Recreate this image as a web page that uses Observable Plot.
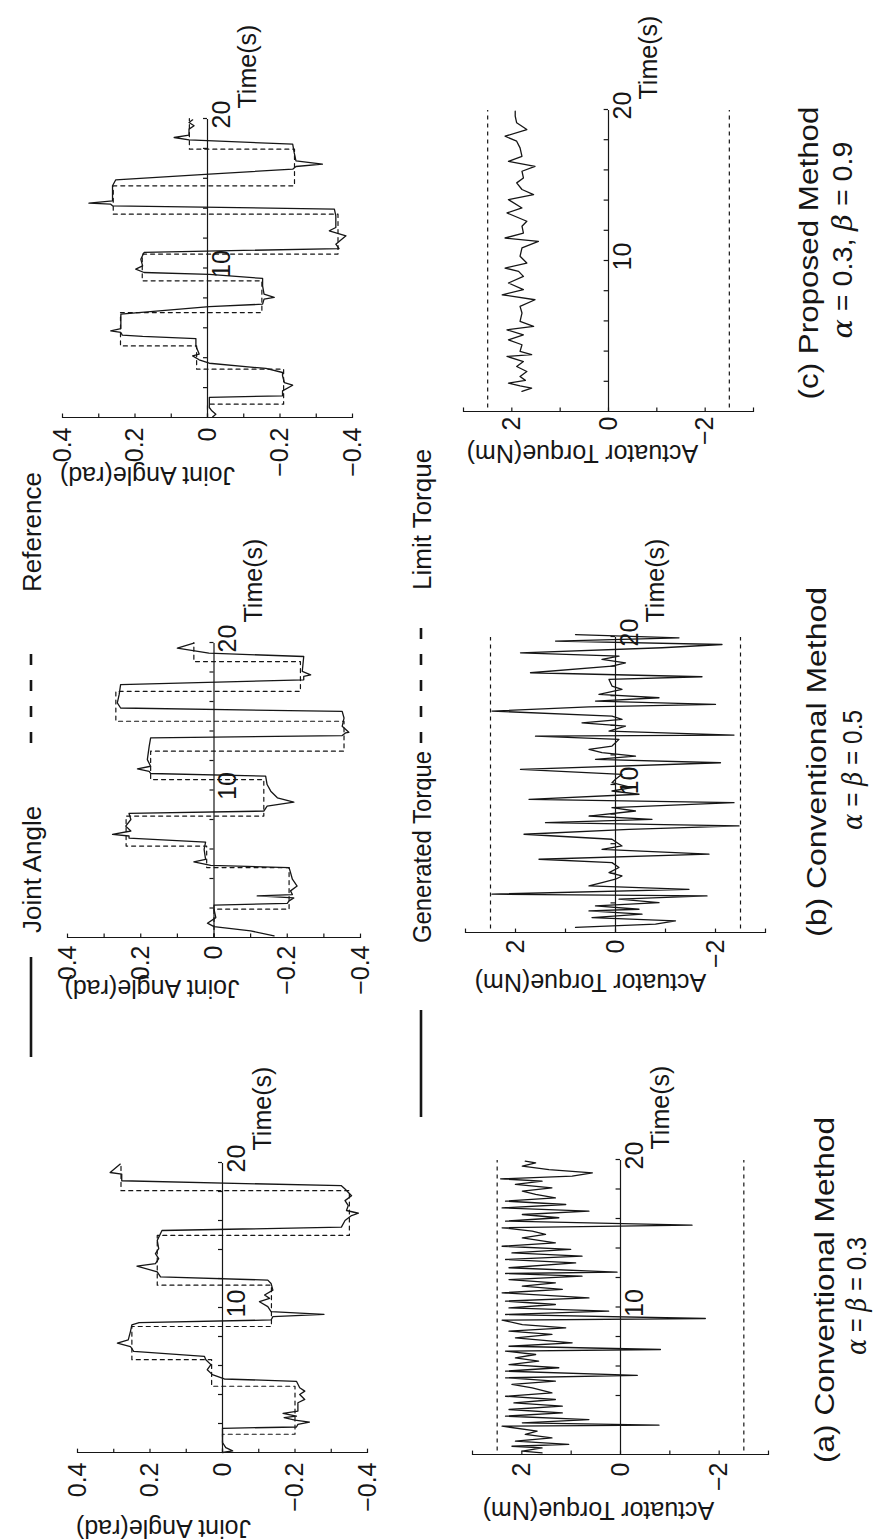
<!DOCTYPE html>
<html>
<head>
<meta charset="utf-8">
<script src="https://cdn.jsdelivr.net/npm/d3@7"></script>
<script src="https://cdn.jsdelivr.net/npm/@observablehq/plot@0.6"></script>
<style>
  html, body { margin: 0; padding: 0; background: #fff; }
  body { width: 875px; height: 1540px; overflow: hidden; position: relative; font-family: 'Liberation Sans', Arial, sans-serif; }
  #fig { position: absolute; left: 0; top: 0; width: 1540px; height: 875px; transform-origin: 0 0; transform: translate(0px, 1540px) rotate(-90deg); }
  #fig svg { overflow: visible; }
</style>
</head>
<body>
<div id="fig"></div>
<script>
// ---------------- data ----------------
const timeDomain = [0, 20];
const timeTicks = [2, 4, 6, 8, 10, 12, 14, 16, 18, 20];
const timeTickLabels = [10, 20];
const angleTickLabels = [0.4, 0.2, 0, -0.2, -0.4];
const angleMinorTicks = [-0.4, -0.3, -0.2, -0.1, 0, 0.1, 0.2, 0.3, 0.4];
const torqueTickLabels = [2, 0, -2];
const torqueMinorTicks = [-3, -2, -1, 0, 1, 2, 3];
const limitTorque = [2.5, -2.5];

// reference joint angle (step signal): change times and levels
const refTimeA = [0, 1.26, 4.57, 6.4, 8.69, 11.54, 14.97, 18.06, 20];
const refValueA = [0, -0.2, 0.03, 0.25, -0.135, 0.18, -0.35, 0.28, 0.28];
const refTimeB = [0, 1.92, 4.74, 6.2, 8.23, 10.71, 12.63, 14.66, 16.69, 18.71, 20];
const refValueB = [0, -0.205, 0.02, 0.24, -0.136, 0.173, -0.355, 0.268, -0.236, 0.055, 0.055];
const refTimeC = [0, 0.89, 3.23, 4.79, 7.02, 9.14, 10.93, 13.6, 15.5, 17.95, 20];
const refValueC = [0, -0.21, 0.03, 0.24, -0.15, 0.18, -0.36, 0.26, -0.24, 0.05, 0.05];

// measured joint angle
const angleTimeA = [0, 0.11, 0.34, 0.69, 1.67, 1.76, 1.94, 2.1, 2.24, 2.4, 2.51, 2.7, 2.86, 3.43, 3.66, 4.0, 4.23, 4.46, 4.91, 5.07, 5.37, 5.71, 6.06, 6.4, 6.63, 6.97, 7.31, 7.54, 7.77, 8.34, 8.8, 8.96, 9.14, 9.37, 9.53, 9.71, 10.06, 10.4, 10.63, 10.86, 11.2, 11.66, 11.89, 12.11, 12.46, 12.85, 13.03, 13.37, 13.71, 14.06, 14.63, 15.31, 15.54, 16.0, 16.34, 16.5, 16.69, 17.03, 17.37, 17.71, 18.17, 18.4, 18.74, 19.2, 19.31, 19.89];
const angleA = [0, -0.028, -0.009, 0, 0, -0.204, -0.208, -0.24, -0.2, -0.17, -0.204, -0.167, -0.208, -0.208, -0.227, -0.213, -0.227, -0.213, -0.204, -0.005, 0.028, 0.042, 0.032, 0.046, 0.05, 0.245, 0.254, 0.29, 0.26, 0.254, 0.25, 0.23, -0.134, -0.139, -0.28, -0.134, -0.125, -0.102, -0.13, -0.116, -0.139, -0.134, -0.125, 0.171, 0.18, 0.236, 0.185, 0.176, 0.185, 0.176, 0.18, 0.167, -0.328, -0.338, -0.356, -0.375, -0.342, -0.347, -0.338, -0.356, -0.338, -0.328, 0.278, 0.278, 0.31, 0.282];
const angleTimeB = [0.11, 0.45, 0.74, 0.97, 1.35, 1.92, 2.19, 2.32, 2.48, 2.68, 2.82, 2.91, 3.16, 3.49, 3.95, 4.4, 4.74, 4.89, 5.12, 5.3, 5.98, 6.47, 6.74, 6.88, 6.99, 7.22, 7.55, 8.0, 8.41, 8.57, 8.91, 9.18, 9.47, 9.92, 10.37, 10.94, 11.12, 11.27, 11.43, 11.61, 12.06, 12.96, 13.53, 13.69, 13.87, 13.91, 14.32, 14.88, 15.33, 15.56, 15.9, 16.46, 17.14, 17.47, 17.7, 17.81, 18.04, 19.05, 19.28, 19.62, 19.95];
const angleB = [-0.164, -0.1, 0, 0.018, -0.005, 0, 0, -0.2, -0.205, -0.218, -0.118, -0.214, -0.209, -0.227, -0.214, -0.209, -0.205, 0.009, 0.055, 0.023, 0.027, 0.023, 0.232, 0.232, 0.277, 0.227, 0.241, 0.227, 0.232, -0.136, -0.145, -0.218, -0.173, -0.155, -0.145, -0.141, 0.173, 0.177, 0.209, 0.173, 0.182, 0.177, 0.173, -0.35, -0.359, -0.368, -0.35, -0.355, -0.35, 0.255, 0.264, 0.259, 0.255, -0.245, -0.245, -0.264, -0.241, -0.245, 0.014, 0.1, 0.055];
const angleTimeC = [0.04, 0.22, 0.45, 0.67, 1.34, 1.45, 1.78, 2.16, 2.34, 2.79, 3.01, 3.28, 3.63, 3.86, 4.12, 4.24, 4.79, 5.28, 5.42, 5.51, 5.69, 5.8, 5.95, 6.91, 7.42, 7.58, 7.92, 8.03, 8.25, 8.81, 9.3, 9.57, 9.7, 9.92, 10.14, 10.59, 11.04, 11.3, 11.59, 12.15, 12.49, 12.71, 13.49, 13.94, 14.16, 14.27, 14.34, 14.49, 15.5, 15.9, 16.28, 16.61, 16.79, 16.95, 17.17, 17.73, 18.28, 18.57, 18.73, 18.89, 19.29, 19.51, 19.73, 19.91];
const angleC = [-0.014, -0.023, -0.012, -0.005, -0.005, -0.207, -0.207, -0.235, -0.212, -0.207, -0.207, -0.161, -0.005, 0.023, 0.041, 0.023, 0.032, 0.032, 0.179, 0.235, 0.239, 0.267, 0.239, 0.239, -0.005, -0.152, -0.156, -0.184, -0.156, -0.152, -0.152, -0.005, 0.175, 0.198, 0.179, 0.184, 0.175, -0.363, -0.354, -0.382, -0.336, -0.354, -0.354, -0.35, 0.262, 0.267, 0.327, 0.262, 0.262, 0.253, -0.005, -0.235, -0.244, -0.317, -0.244, -0.239, -0.235, 0.051, 0.092, 0.051, 0.051, 0.037, 0.051, 0.041];

// generated actuator torque
const torqueTimeA = [0.11, 0.23, 0.45, 0.56, 0.68, 0.9, 1.13, 1.36, 1.58, 1.92, 1.99, 2.15, 2.37, 2.6, 2.82, 3.05, 3.28, 3.5, 3.73, 3.95, 4.18, 4.52, 4.75, 4.97, 5.2, 5.36, 5.65, 5.88, 6.1, 6.33, 6.55, 6.78, 7.01, 7.12, 7.34, 7.57, 7.91, 8.14, 8.36, 8.59, 8.81, 9.11, 9.22, 9.49, 9.72, 9.94, 10.17, 10.4, 10.62, 10.96, 11.19, 11.41, 11.64, 11.86, 12.09, 12.27, 12.36, 12.66, 12.99, 13.22, 13.45, 13.67, 13.9, 14.12, 14.35, 14.69, 14.92, 15.14, 15.37, 15.55, 15.82, 16.05, 16.27, 16.5, 16.72, 16.95, 17.18, 17.4, 17.63, 17.85, 18.08, 18.31, 18.53, 18.69, 18.87, 19.1, 19.32, 19.55, 19.77, 19.89];
const torqueA = [1.59, 1.99, 1.59, 2.2, 1.05, 2.13, 1.39, 1.93, 1.69, 2.4, -0.78, 1.99, 0.64, 2.33, 1.18, 2.26, 1.18, 2.16, 1.32, 2.33, 1.39, 1.79, 2.2, 1.32, 2.33, -0.34, 2.33, 1.25, 2.26, 1.66, 2.13, 1.72, 2.33, -0.81, 2.26, 0.98, 2.13, 1.39, 2.26, 1.11, 1.99, 2.4, -1.72, 2.33, 0.24, 2.26, 1.32, 2.33, 0.64, 2.4, 1.18, 1.99, 1.32, 2.26, 0.78, 2.33, 0.07, 2.26, 0.91, 2.33, 0.78, 2.2, 1.01, 2.4, 1.32, 1.99, 1.52, 1.79, 2.4, -1.45, 2.33, 1.25, 1.99, 0.64, 2.4, 1.11, 2.33, 1.32, 1.72, 1.99, 1.39, 2.13, 1.59, 2.43, 0.98, 0.57, 1.45, 1.99, 1.72, 1.93];
const torqueTimeB = [0.34, 0.56, 0.79, 1.01, 1.24, 1.46, 1.57, 1.8, 2.02, 2.25, 2.47, 2.59, 2.92, 3.15, 3.37, 3.6, 3.82, 4.05, 4.39, 4.72, 4.95, 5.29, 5.62, 5.85, 6.3, 6.64, 6.97, 7.2, 7.42, 7.65, 7.87, 8.21, 8.44, 8.77, 9.0, 9.34, 9.56, 9.79, 10.12, 10.35, 10.69, 11.02, 11.47, 11.7, 11.92, 12.15, 12.37, 12.6, 13.05, 13.27, 13.34, 13.61, 13.95, 14.17, 14.4, 14.62, 14.96, 15.25, 15.41, 15.64, 15.86, 16.09, 16.42, 16.65, 17.1, 17.28, 17.55, 18.0, 18.22, 18.45, 18.67, 18.9, 19.24, 19.46, 19.69, 19.91, 20.13];
const torqueB = [0.8, -0.8, -1.2, 0.47, -0.53, 0.53, -0.47, 0.4, -0.87, -0.07, -1.83, 2.47, -1.47, 0.53, 0.27, 0, -0.13, 0.13, -0.07, 0.07, 1.53, -1.87, 0.27, -0.13, 0.07, 1.83, -0.27, -2.47, 1.4, -0.73, 0.53, -0.4, 0.07, -2.37, 1.73, -0.47, 0.07, -0.33, 0.07, 0, -0.13, 1.9, -2.1, 0.4, -0.4, 0.27, 0.53, 0.07, -0.07, 1.6, -2.37, 0.13, -0.2, 0.67, -0.13, 0.07, 2.47, 0.53, -2.0, 0.4, -0.87, 0.33, -0.13, 0.07, 0.13, -1.73, 1.7, 0.07, -0.2, 0.27, -0.07, 1.9, -0.93, -2.13, 1.2, -1.27, 0.8];
const torqueTimeC = [1.33, 1.55, 1.7, 1.88, 2.06, 2.32, 2.65, 2.98, 3.31, 3.65, 3.76, 3.98, 4.42, 4.75, 5.08, 5.41, 5.64, 5.97, 6.52, 6.96, 7.4, 7.73, 8.07, 8.51, 8.95, 9.28, 9.5, 9.83, 10.28, 10.83, 11.27, 11.49, 11.82, 12.27, 12.6, 13.15, 13.48, 14.03, 14.36, 14.7, 15.14, 15.47, 15.91, 16.24, 16.57, 16.9, 17.46, 17.9, 18.23, 18.67, 19.12, 19.56, 19.89];
const torqueC = [1.79, 1.59, 1.83, 2.07, 1.72, 1.83, 1.69, 1.9, 1.76, 2.1, 1.59, 1.83, 1.79, 2.07, 1.76, 2.1, 1.55, 1.83, 1.79, 1.83, 1.52, 2.2, 1.76, 2.07, 1.76, 1.86, 2.14, 1.69, 1.83, 1.79, 1.45, 2.14, 1.76, 1.79, 1.69, 2.1, 1.79, 2.07, 1.55, 1.79, 1.9, 1.76, 1.79, 1.52, 2.07, 1.79, 1.83, 1.9, 2.14, 1.69, 1.9, 1.93, 1.93];

const legendLabels = ["Joint Angle", "Reference", "Generated Torque", "Limit Torque"];
const captionTitles = ["(a) Conventional Method", "(b) Conventional Method", "(c) Proposed Method"];
const captionParams = [
  [["α", true], [" = ", false], ["β", true], [" = 0.3", false]],
  [["α", true], [" = ", false], ["β", true], [" = 0.5", false]],
  [["α", true], [" = 0.3, ", false], ["β", true], [" = 0.9", false]]
];
const yLabels = ["Joint Angle(rad)", "Actuator Torque(Nm)"];
const xLabel = "Time(s)";

// ---------------- drawing ----------------
const zip = (ts, vs) => ts.map((t, i) => ({t, v: vs[i]}));
const minus = s => s.replace("-", "\u2212");
const fmtAngle = d => d === 0 ? "0" : minus(d.toFixed(1));
const fmtTorque = d => minus(String(d));
const INK = "#161616";
const FONT = "'Liberation Sans', Arial, Helvetica, sans-serif";
const fig = document.getElementById("fig");
const NS = "http://www.w3.org/2000/svg";

// legend + captions layer (figure coordinates before rotation)
const deco = document.createElementNS(NS, "svg");
deco.setAttribute("width", 1540); deco.setAttribute("height", 875);
deco.style.position = "absolute"; deco.style.left = "0px"; deco.style.top = "0px";
deco.setAttribute("font-family", FONT);
fig.appendChild(deco);
function el(tag, attrs, parent = deco) {
  const e = document.createElementNS(NS, tag);
  for (const k in attrs) e.setAttribute(k, attrs[k]);
  parent.appendChild(e);
  return e;
}
function legendText(x, y, label, len) {
  const a = {x, y, "font-size": 26, fill: INK};
  if (len) { a.textLength = len; a.lengthAdjust = "spacingAndGlyphs"; }
  el("text", a).textContent = label;
}
function legendRow(y, x0, x1, dx0, dx1) {
  el("line", {x1: x0, x2: x1, y1: y, y2: y, stroke: INK, "stroke-width": 2.6});
  el("line", {x1: dx0, x2: dx1, y1: y, y2: y, stroke: INK, "stroke-width": 2.6, "stroke-dasharray": "11,15"});
}
legendRow(31, 483, 583, 797, 897);
legendText(607, 41, legendLabels[0]);
legendText(948, 41, legendLabels[1]);
legendRow(421, 423, 530, 797, 920);
legendText(597, 431, legendLabels[2], 192);
legendText(950, 431, legendLabels[3]);

const captionPos = [
  {x1: 250, y1: 834, len1: 346, x2: 244, y2: 866, len2: 118},
  {x1: 778, y1: 826, len1: 350, x2: 770, y2: 862, len2: 120},
  {x1: 1287, y1: 818, len1: 293, x2: 1300, y2: 852, len2: 197}
];
captionTitles.forEach((title, i) => {
  const p = captionPos[i];
  el("text", {x: p.x1, y: p.y1, "font-size": 27, "text-anchor": "middle", fill: INK, textLength: p.len1, lengthAdjust: "spacingAndGlyphs"}).textContent = title;
  const t2 = el("text", {x: p.x2, y: p.y2, "font-size": 27, "text-anchor": "middle", fill: INK, textLength: p.len2, lengthAdjust: "spacingAndGlyphs"});
  for (const [s, it] of captionParams[i]) {
    const ts = el("tspan", it ? {"font-style": "italic", "font-family": "'DejaVu Serif', serif"} : {}, t2);
    ts.textContent = s;
  }
});

function addPanel(geom, kind, series, ref) {
  const mL = 110, mR = 130, mT = 20, mB = 60;
  const w = geom.x1 - geom.x0, h = geom.yBottom - geom.yTop;
  const isAngle = kind === "angle";
  const yDomain = isAngle ? [-0.4, 0.4] : [-3, 3];
  const inward = 0.3;                       // tick length along time (s)
  const upTick = isAngle ? 0.011 : 0.09;    // tick length along value
  const marks = [
    Plot.ruleX([0], {y1: yDomain[0], y2: yDomain[1], stroke: INK, strokeWidth: 1.2}),
    Plot.ruleY(isAngle ? angleMinorTicks : torqueMinorTicks, {x1: 0, x2: inward, stroke: INK, strokeWidth: 1.2}),
    Plot.axisY(isAngle ? angleTickLabels : torqueTickLabels, {tickSize: 0, tickPadding: geom.pad, tickFormat: isAngle ? fmtAngle : fmtTorque, label: null, fill: INK}),
    Plot.ruleY([0], {x1: 0, x2: 20, stroke: INK, strokeWidth: 1.2}),
    Plot.ruleX(timeTicks, {y1: 0, y2: upTick, stroke: INK, strokeWidth: 1.2}),
    Plot.text(timeTickLabels, {x: d => d, y: () => 0, text: d => String(d), dy: 14, dx: 4, fill: INK}),
    Plot.text([{t: 20, v: 0, s: xLabel}], {x: "t", y: "v", text: "s", textAnchor: "start", dx: geom.tdx, dy: 40, fill: INK}),
    Plot.text([isAngle ? yLabels[0] : yLabels[1]], {frameAnchor: "left", textAnchor: "middle", lineAnchor: "middle", text: d => d, rotate: -90, dx: geom.ldx, dy: geom.ldy, fill: INK})
  ];
  if (isAngle) {
    marks.push(Plot.line(ref, {x: "t", y: "v", curve: "step-after", stroke: INK, strokeWidth: 1.2, strokeDasharray: "4,4"}));
  } else {
    marks.push(Plot.ruleY(limitTorque, {x1: 0.3, x2: 20, stroke: INK, strokeWidth: 1.2, strokeDasharray: "4,4"}));
  }
  marks.push(Plot.line(series, {x: "t", y: "v", stroke: INK, strokeWidth: 1.3}));
  const plot = Plot.plot({
    width: mL + w + mR, height: mT + h + mB,
    marginLeft: mL, marginRight: mR, marginTop: mT, marginBottom: mB,
    x: {domain: timeDomain, axis: null},
    y: {domain: yDomain, axis: null, label: null},
    style: {fontFamily: FONT, fontSize: "25px", background: "transparent", overflow: "visible", color: INK, maxWidth: "none"},
    marks
  });
  plot.style.position = "absolute";
  plot.style.overflow = "visible";
  plot.style.left = (geom.x0 - mL) + "px";
  plot.style.top = (geom.yTop - mT) + "px";
  fig.appendChild(plot);
}

addPanel({x0: 87, x1: 377, yTop: 77, yBottom: 367, pad: 10, tdx: 12, ldx: -75, ldy: -59}, "angle", zip(angleTimeA, angleA), zip(refTimeA, refValueA));
addPanel({x0: 602, x1: 897, yTop: 67, yBottom: 360, pad: 8, tdx: 20, ldx: -50, ldy: -62}, "angle", zip(angleTimeB, angleB), zip(refTimeB, refValueB));
addPanel({x0: 1122, x1: 1421, yTop: 62, yBottom: 352, pad: 10, tdx: 10, ldx: -57, ldy: -60}, "angle", zip(angleTimeC, angleC), zip(refTimeC, refValueC));
addPanel({x0: 85, x1: 380, yTop: 472, yBottom: 768, pad: 8, tdx: 10, ldx: -55, ldy: -22}, "torque", zip(torqueTimeA, torqueA));
addPanel({x0: 607, x1: 903, yTop: 465, yBottom: 765, pad: 7, tdx: 14, ldx: -49, ldy: -25}, "torque", zip(torqueTimeB, torqueB));
addPanel({x0: 1128, x1: 1430, yTop: 463, yBottom: 753, pad: 5, tdx: 10, ldx: -41, ldy: -26}, "torque", zip(torqueTimeC, torqueC));
</script>
</body>
</html>
